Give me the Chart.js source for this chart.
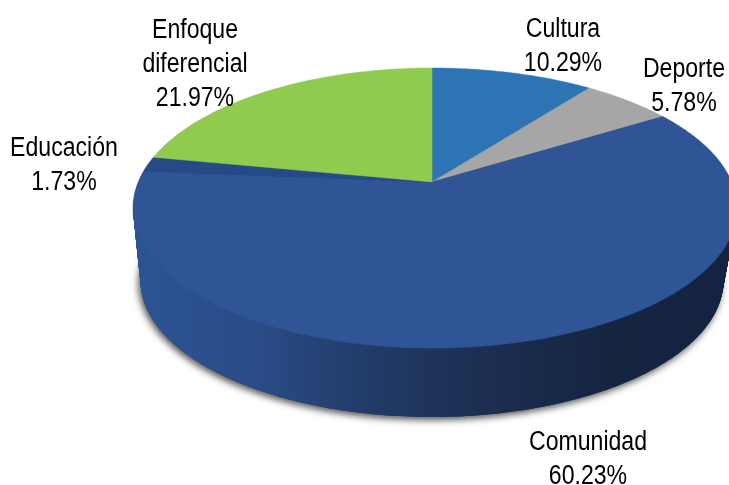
<!DOCTYPE html>
<html>
<head>
<meta charset="utf-8">
<style>
html,body{margin:0;padding:0;background:#fff;overflow:hidden}
canvas{display:block}
</style>
<script src="https://cdn.jsdelivr.net/npm/chart.js@4"></script>
</head>
<body>
<canvas id="myChart" width="729" height="485"></canvas>
<script>
// data, clockwise from 12 o'clock
const categories=["Cultura","Deporte","Comunidad","Educación","Enfoque diferencial"];
const percentages=[10.29,5.78,60.23,1.73,21.97];
const sliceColors=["#2e74b5","#a6a6a6","#2f5597","#264a86","#8fcb4f"];
// label anchors: centre x and first baseline y, one row per category
const labelLines=[["Cultura"],["Deporte"],["Comunidad"],["Educación"],["Enfoque","diferencial"]];
const labelX=[563,684,588,64,195];
const labelY=[37,77,450,156,38];

// the pie is tilted in perspective so the apex sits above the middle of the ellipse
const apexX=432, apexY=182;
const tilt=0.186, scaleX=293.8, scaleY=135.2;
const wallDepth=73;

function project(angle,shrink,drop,widen){
    const X=Math.cos(angle), Y=-Math.sin(angle);
    const d=1+tilt*Y;
    const sx=X>0 ? shrink*widen : shrink;
    return [apexX+sx*scaleX*X/d, apexY+drop-shrink*scaleY*Y/d];
}

function slicePath(ctx,arc,shrink,drop,widen){
    ctx.beginPath();
    ctx.moveTo(apexX,apexY+drop);
    const steps=Math.max(8,Math.ceil((arc.endAngle-arc.startAngle)*60));
    for(let i=0;i<=steps;i++){
        const a=arc.startAngle+(arc.endAngle-arc.startAngle)*i/steps;
        const p=project(a,shrink,drop,widen);
        ctx.lineTo(p[0],p[1]);
    }
    ctx.closePath();
}

const tiltedPie={
    id:"tiltedPie",
    beforeDatasetDraw(chart){
        const ctx=chart.ctx;
        const arcs=chart.getDatasetMeta(0).data;

        // soft shadow under the wall
        ctx.save();
        ctx.shadowColor="rgba(40,40,40,0.8)";
        ctx.shadowBlur=7;
        ctx.shadowOffsetX=-2;
        ctx.shadowOffsetY=3;
        ctx.fillStyle="#1c2f55";
        arcs.forEach(arc=>{
            slicePath(ctx,arc,0.975,wallDepth,1);
            ctx.fill();
        });
        ctx.restore();

        // wall, extruded from the bottom face up
        const wall=ctx.createLinearGradient(132,0,730,0);
        wall.addColorStop(0,"#2c5494");
        wall.addColorStop(0.2,"#2a4c88");
        wall.addColorStop(0.45,"#20375f");
        wall.addColorStop(0.65,"#1a2b4c");
        wall.addColorStop(0.8,"#15243f");
        wall.addColorStop(1,"#14233f");
        ctx.fillStyle=wall;
        for(let d=wallDepth;d>0;d--){
            const t=d/wallDepth;
            arcs.forEach(arc=>{
                slicePath(ctx,arc,1-0.025*t,d,1.02-0.02*t);
                ctx.fill();
            });
        }

        // top face
        arcs.forEach((arc,i)=>{
            slicePath(ctx,arc,1,0,1.02);
            ctx.fillStyle=sliceColors[i];
            ctx.fill();
            ctx.strokeStyle=sliceColors[i];
            ctx.lineWidth=0.5;
            ctx.stroke();
        });

        // labels sit on top of the pie, narrower than the regular face
        ctx.fillStyle="#000";
        ctx.font='27px "Liberation Sans",sans-serif';
        ctx.textAlign="center";
        ctx.textBaseline="alphabetic";
        categories.forEach((name,i)=>{
            const lines=labelLines[i].concat(percentages[i].toFixed(2)+"%");
            lines.forEach((line,n)=>{
                ctx.save();
                ctx.translate(labelX[i],labelY[i]+n*34);
                ctx.scale(0.855,1);
                ctx.fillText(line,0,0);
                ctx.restore();
            });
        });
        return false;
    }
};

const myChart=new Chart(document.getElementById("myChart"),{
    type:"pie",
    data:{
        labels:categories,
        datasets:[{data:percentages,backgroundColor:sliceColors,borderWidth:0}]
    },
    options:{
        responsive:false,
        animation:false,
        plugins:{legend:{display:false},tooltip:{enabled:false}}
    },
    plugins:[tiltedPie]
});
</script>
</body>
</html>
